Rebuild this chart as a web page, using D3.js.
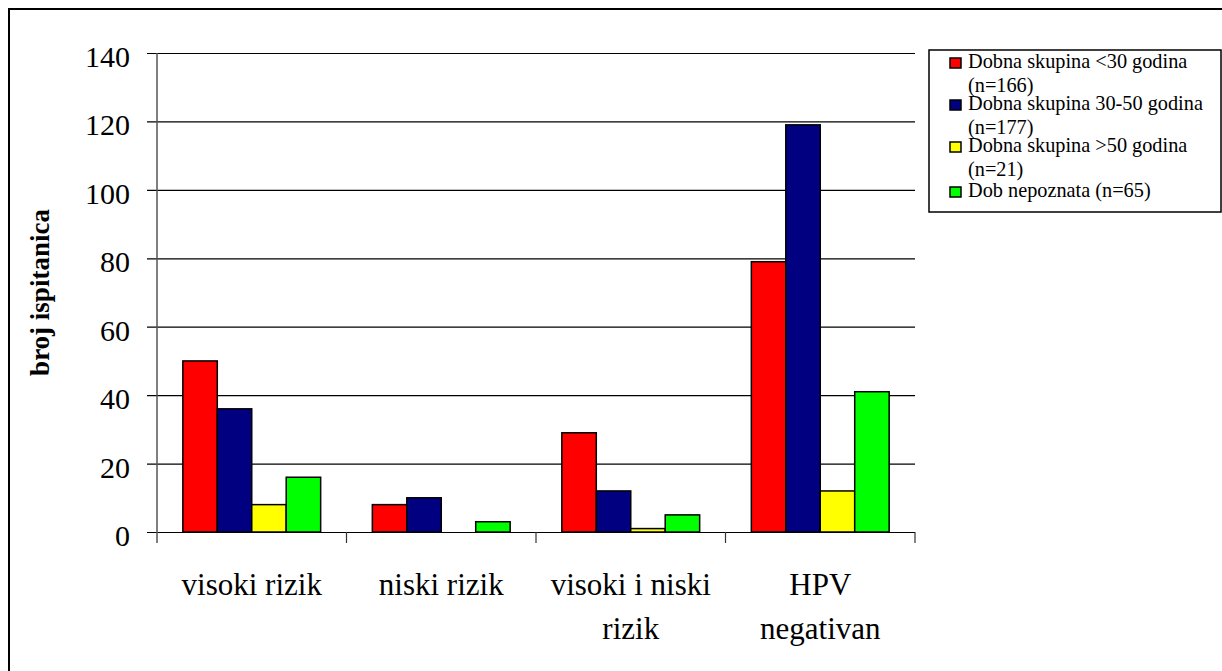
<!DOCTYPE html>
<html>
  <head>
    <meta charset="UTF-8">
    <style>
      body {
        margin: 0;
        background: white;
      }

      svg text {
        font-family: "Liberation Serif", "Times New Roman", serif;
      }
    </style>
    <script src="https://d3js.org/d3.v7.min.js"></script>
  </head>

  <body>
    <svg id="hpv-chart"></svg>

    <script type="text/javascript">
      let categories = ['visoki rizik', 'niski rizik', 'visoki i niski rizik', 'HPV negativan']
      let seriesNames = [
        'Dobna skupina <30 godina (n=166)',
        'Dobna skupina 30-50 godina (n=177)',
        'Dobna skupina >50 godina (n=21)',
        'Dob nepoznata (n=65)'
      ]
      let seriesColors = ['#ff0000', '#000080', '#ffff00', '#00ff00']
      let under30 = [50, 8, 29, 79]
      let from30to50 = [36, 10, 12, 119]
      let over50 = [8, 0, 1, 12]
      let unknownAge = [16, 3, 5, 41]
      let yTicks = [0, 20, 40, 60, 80, 100, 120, 140]
      let yTitle = 'broj ispitanica'

      let serif = '"Liberation Serif", "Times New Roman", serif'

      function getConfig() {
        let width = 1222
        let height = 671
        let margin = {top: 53, bottom: 139, left: 157, right: 307}
        let bodyWidth = width - margin.left - margin.right
        let bodyHeight = height - margin.top - margin.bottom

        let container = d3.select('#hpv-chart')
          .attr('width', width)
          .attr('height', height)
          .attr('font-family', serif)

        return {width, height, margin, bodyWidth, bodyHeight, container}
      }

      function getScales(config) {
        let {margin, bodyWidth, bodyHeight} = config

        let xScale = d3.scaleBand()
          .domain(categories)
          .range([margin.left, margin.left + bodyWidth])
          .padding(0)

        // excel gap width 150% -> 0.75 of a bar on each side
        let xSub = d3.scaleBand()
          .domain(seriesNames)
          .range([0, xScale.bandwidth()])
          .paddingInner(0)
          .paddingOuter(0.75)

        let yScale = d3.scaleLinear()
          .domain([0, 140])
          .range([margin.top + bodyHeight, margin.top])

        return {xScale, xSub, yScale}
      }

      function drawFrame(config) {
        let {container, width, height} = config
        container.append('rect')
          .attr('x', 9)
          .attr('y', 9)
          .attr('width', width + 20)
          .attr('height', height + 20)
          .attr('fill', 'none')
          .attr('stroke', '#000')
          .attr('stroke-width', 2)
      }

      function drawGrid(scales, config) {
        let {yScale} = scales
        let {margin, bodyWidth} = config

        let axisY = d3.axisLeft(yScale)
          .tickValues(yTicks)
          .tickSize(-(bodyWidth + 10))
          .tickPadding(17)
          .tickFormat(d3.format('d'))

        let g = config.container.append('g')
          .attr('transform', `translate(${margin.left - 10}, 0)`)
          .call(axisY)
          .attr('font-family', serif)

        g.select('.domain').remove()
        g.selectAll('.tick line')
          .attr('stroke', '#000')
          .attr('stroke-width', 1.2)
        g.selectAll('.tick text')
          .attr('font-size', 30)
          .attr('fill', '#000')
          .attr('dy', '0.45em')
      }

      function drawBars(scales, config) {
        let {xScale, xSub, yScale} = scales
        let columns = [under30, from30to50, over50, unknownAge]

        let rows = []
        categories.forEach((c, i) => {
          seriesNames.forEach((s, j) => {
            rows.push({category: c, series: s, color: seriesColors[j], value: columns[j][i]})
          })
        })

        config.container.append('g')
          .selectAll('rect')
          .data(rows.filter(d => d.value > 0))
          .enter()
          .append('rect')
          .attr('x', d => xScale(d.category) + xSub(d.series))
          .attr('y', d => yScale(d.value))
          .attr('width', xSub.bandwidth())
          .attr('height', d => yScale(0) - yScale(d.value))
          .attr('fill', d => d.color)
          .attr('stroke', '#000')
          .attr('stroke-width', 1.5)
      }

      // split a label into lines no wider than maxWidth
      function wrapText(t, words, x, maxWidth, lineHeight, firstY) {
        let line = []
        let lineNo = 0
        let tspan = t.append('tspan').attr('x', x).attr('y', firstY)
        words.forEach(w => {
          line.push(w)
          tspan.text(line.join(' '))
          if (tspan.node().getComputedTextLength() > maxWidth && line.length > 1) {
            line.pop()
            tspan.text(line.join(' '))
            line = [w]
            lineNo++
            tspan = t.append('tspan')
              .attr('x', x)
              .attr('y', firstY + lineNo * lineHeight)
              .text(w)
          }
        })
      }

      function drawAxes(scales, config) {
        let {xScale, yScale} = scales
        let {container, margin, bodyHeight} = config
        let y0 = yScale(0)

        // y axis line
        container.append('line')
          .attr('x1', margin.left)
          .attr('x2', margin.left)
          .attr('y1', yScale(140))
          .attr('y2', y0 + 11)
          .attr('stroke', '#555')
          .attr('stroke-width', 1.5)

        // category boundary ticks
        let bounds = categories.map(c => xScale(c)).concat([xScale.range()[1]])
        container.append('g')
          .selectAll('line')
          .data(bounds.slice(1))
          .enter()
          .append('line')
          .attr('x1', d => d)
          .attr('x2', d => d)
          .attr('y1', y0)
          .attr('y2', y0 + 11)
          .attr('stroke', '#333')
          .attr('stroke-width', 1.2)

        let axisX = d3.axisBottom(xScale)
          .tickSize(0)
          .tickPadding(41)

        let g = container.append('g')
          .attr('transform', `translate(0, ${y0})`)
          .call(axisX)
          .attr('font-family', serif)

        g.select('.domain').remove()
        g.selectAll('.tick text')
          .attr('font-size', 31)
          .attr('fill', '#000')
          .attr('dy', null)
          .each(function(d) {
            let t = d3.select(this)
            t.text(null)
            wrapText(t, d.split(' '), 0, xScale.bandwidth() - 4, 44, 63)
          })

        container.append('text')
          .attr('transform', `translate(49, ${margin.top + bodyHeight / 2}) rotate(-90)`)
          .attr('text-anchor', 'middle')
          .attr('font-size', 27)
          .attr('font-weight', 'bold')
          .attr('fill', '#000')
          .text(yTitle)
      }

      function drawLegend(config) {
        let {container} = config
        let box = {x: 929, y: 50, width: 292, height: 162}

        container.append('rect')
          .attr('x', box.x)
          .attr('y', box.y)
          .attr('width', box.width)
          .attr('height', box.height)
          .attr('fill', 'white')
          .attr('stroke', '#000')
          .attr('stroke-width', 1.5)

        let baselines = [68, 110, 152, 197]

        let legend = container.selectAll('.legend')
          .data(seriesNames.map((name, i) => ({name, color: seriesColors[i], y: baselines[i]})))
          .enter()
          .append('g')
          .attr('class', 'legend')
          .attr('transform', d => `translate(${box.x + 21}, ${d.y})`)

        legend.append('rect')
          .attr('x', 0)
          .attr('y', -10)
          .attr('width', 11)
          .attr('height', 10)
          .attr('fill', d => d.color)
          .attr('stroke', '#000')
          .attr('stroke-width', 1.5)

        legend.append('text')
          .style('font-family', serif)
          .attr('font-size', 20.3)
          .attr('fill', '#000')
          .each(function(d) {
            wrapText(d3.select(this), d.name.split(' '), 18, 240, 24, 0)
          })
      }

      function drawChart() {
        let config = getConfig()
        let scales = getScales(config)
        drawFrame(config)
        drawGrid(scales, config)
        drawBars(scales, config)
        drawAxes(scales, config)
        drawLegend(config)
      }

      drawChart()
    </script>
  </body>
</html>
